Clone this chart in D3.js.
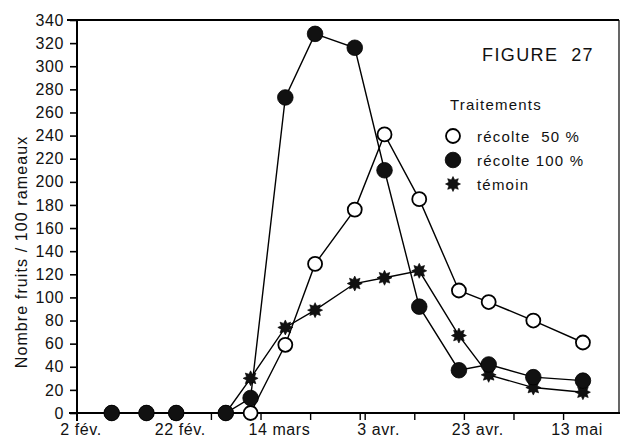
<!DOCTYPE html>
<html lang="fr">
<head>
<meta charset="utf-8">
<title>Figure 27</title>
<script src="https://cdn.jsdelivr.net/npm/d3@7"></script>
<style>
  html, body { margin: 0; padding: 0; background: #fff; }
  svg { display: block; font-family: "Liberation Sans", Arial, Helvetica, sans-serif; }
  text { fill: #111; white-space: pre; }
</style>
</head>
<body>
<svg id="chart" width="621" height="446"></svg>
<script>
// Sampling dates (1975, non-leap year)
const sampleDates = ["1975-02-09", "1975-02-16", "1975-02-22", "1975-03-04", "1975-03-09",
  "1975-03-16", "1975-03-22", "1975-03-30", "1975-04-05", "1975-04-12",
  "1975-04-20", "1975-04-26", "1975-05-05", "1975-05-15"];

// Fruits per 100 shoots, by treatment
const recolte50  = [0, 0, 0, 0, 0, 59, 129, 176, 241, 185, 106, 96, 80, 61];
const recolte100 = [0, 0, 0, 0, 13, 273, 328, 316, 210, 92, 37, 42, 31, 28];
const temoin     = [0, 0, 0, 0, 30, 74, 89, 112, 117, 123, 67, 33, 22, 18];

// Axis ticks
const xTickDates  = ["1975-02-02", "1975-02-22", "1975-03-14", "1975-04-03", "1975-04-23", "1975-05-13"];
const xTickLabels = ["2 fév.", "22 fév.", "14 mars", "3 avr.", "23 avr.", "13 mai"];
const yTicks = d3.range(0, 341, 20);

const legendLabels = ["récolte  50 %", "récolte 100 %", "témoin"];

const parse = d3.utcParse("%Y-%m-%d");
const dates = sampleDates.map(parse);

const svg = d3.select("#chart");

const x = d3.scaleUtc()
  .domain([parse("1975-02-02"), parse("1975-05-13")])
  .range([77, 573]);
const y = d3.scaleLinear().domain([0, 340]).range([413, 20]);

const right = 619;

// Frame: top edge and right edge
svg.append("line").attr("x1", 67).attr("x2", right).attr("y1", y(340)).attr("y2", y(340))
  .attr("stroke", "#000").attr("stroke-width", 2);
svg.append("line").attr("x1", right).attr("x2", right).attr("y1", y(340)).attr("y2", y(0))
  .attr("stroke", "#000").attr("stroke-width", 1.2);

// Y axis
const yAxis = d3.axisLeft(y).tickValues(yTicks).tickSize(7).tickPadding(6).tickFormat(d3.format("d"));
const gy = svg.append("g").attr("transform", `translate(${x.range()[0]},0)`).call(yAxis);
gy.select(".domain").remove();
gy.selectAll(".tick line").attr("stroke", "#000").attr("stroke-width", 1.6);
gy.selectAll(".tick text").attr("font-size", 16).attr("letter-spacing", 0.6)
  .style("font-family", "inherit").attr("fill", "#111");
svg.append("line").attr("x1", x.range()[0]).attr("x2", x.range()[0])
  .attr("y1", y(340)).attr("y2", y(0) + 8).attr("stroke", "#000").attr("stroke-width", 2);

// X axis line
svg.append("line").attr("x1", x.range()[0] - 8).attr("x2", right + 1).attr("y1", y(0)).attr("y2", y(0))
  .attr("stroke", "#000").attr("stroke-width", 2);

// X ticks every 10 days, labels every 20 days
const minorTicks = d3.utcDay.every(10).range(parse("1975-02-12"), parse("1975-05-14"));
const gx = svg.append("g").attr("transform", `translate(0,${y(0)})`)
  .call(d3.axisBottom(x).tickValues(minorTicks).tickSize(7).tickFormat(""));
gx.select(".domain").remove();
gx.selectAll(".tick line").attr("stroke", "#000").attr("stroke-width", 1.4);

svg.append("g").selectAll("text")
  .data(xTickDates)
  .join("text")
  .attr("x", d => x(parse(d)) + 4)
  .attr("y", 435)
  .attr("text-anchor", "middle")
  .attr("font-size", 16)
  .attr("letter-spacing", 0.6)
  .text((d, i) => xTickLabels[i]);

// Y axis title
svg.append("text")
  .attr("transform", "translate(27,252) rotate(-90)")
  .attr("text-anchor", "middle")
  .attr("font-size", 16)
  .attr("letter-spacing", 1.1)
  .text("Nombre fruits / 100 rameaux");

// Series
const series = [
  { key: "r50", values: recolte50 },
  { key: "tem", values: temoin },
  { key: "r100", values: recolte100 }
];

const line = d3.line().x(d => x(d.date)).y(d => y(d.value));

series.forEach(s => {
  s.points = dates.map((date, i) => ({ date, value: s.values[i] }));
  svg.append("path")
    .datum(s.points)
    .attr("d", line)
    .attr("fill", "none")
    .attr("stroke", "#000")
    .attr("stroke-width", 1.4);
});

// Eight-pointed star path for the control treatment
function starPath(outer, inner, points) {
  const pts = d3.range(points * 2).map(k => {
    const r = k % 2 === 0 ? outer : inner;
    const a = (Math.PI / points) * k - Math.PI / 2;
    return [r * Math.cos(a), r * Math.sin(a)];
  });
  return "M" + pts.map(p => p.join(",")).join("L") + "Z";
}
const star = starPath(7.5, 4.4, 8);

function drawMarker(g, key) {
  if (key === "r50") {
    g.append("circle").attr("r", 7).attr("fill", "#fff").attr("stroke", "#000").attr("stroke-width", 1.8);
  } else if (key === "r100") {
    g.append("circle").attr("r", 7.8).attr("fill", "#111").attr("stroke", "#000").attr("stroke-width", 0.8);
  } else {
    g.append("path").attr("d", star).attr("fill", "#111").attr("stroke", "#000").attr("stroke-width", 0.6);
  }
}

series.forEach(s => {
  svg.append("g").selectAll("g")
    .data(s.points)
    .join("g")
    .attr("transform", d => `translate(${x(d.date)},${y(d.value)})`)
    .each(function () { drawMarker(d3.select(this), s.key); });
});

// Title and legend
svg.append("text").attr("x", 482).attr("y", 61).attr("font-size", 18).attr("letter-spacing", 1.4)
  .text("FIGURE  27");
svg.append("text").attr("x", 450).attr("y", 110).attr("font-size", 15).attr("letter-spacing", 1.2)
  .text("Traitements");

const legendKeys = ["r50", "r100", "tem"];
const legend = svg.append("g").selectAll("g")
  .data(legendKeys)
  .join("g")
  .attr("transform", (d, i) => `translate(453,${136 + i * 24})`);
legend.each(function (k) { drawMarker(d3.select(this), k); });
legend.append("text")
  .attr("x", 24)
  .attr("y", 6)
  .attr("font-size", 15)
  .attr("letter-spacing", 1.2)
  .text((d, i) => legendLabels[i]);
</script>
</body>
</html>
